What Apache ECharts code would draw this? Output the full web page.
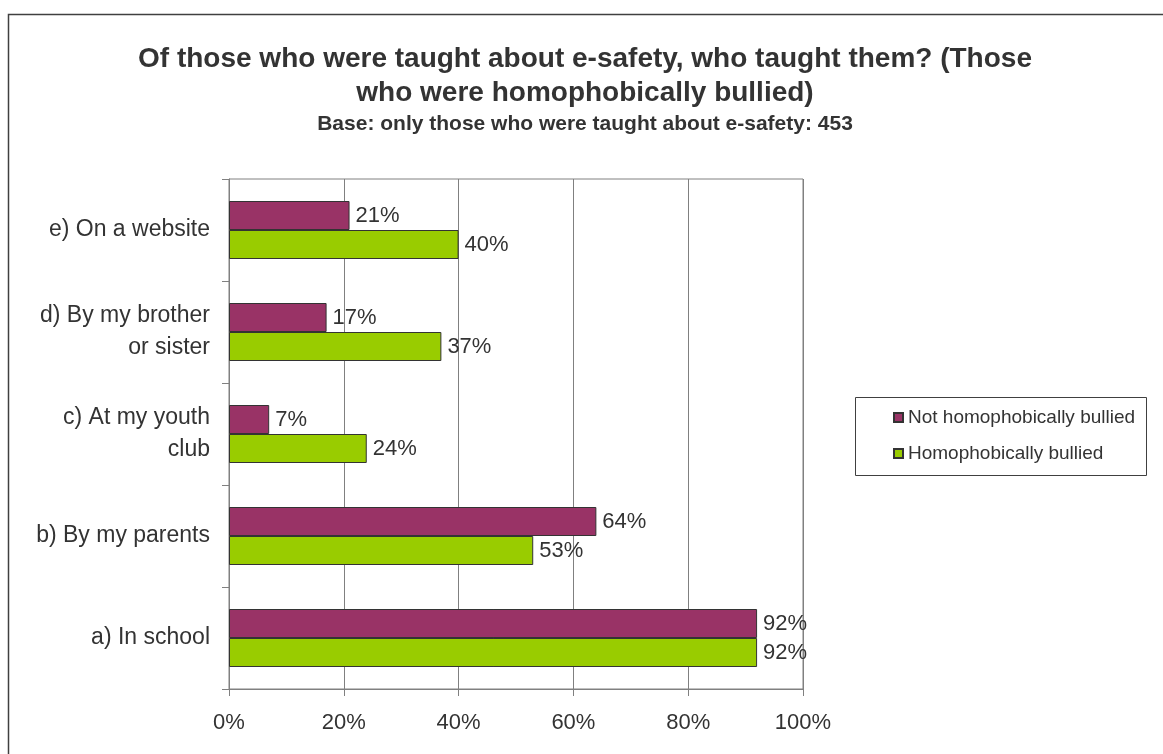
<!DOCTYPE html>
<html>
<head>
<meta charset="utf-8">
<script src="https://cdn.jsdelivr.net/npm/echarts@6/dist/echarts.min.js"></script>
<style>
  html, body { margin: 0; padding: 0; background: #fff; }
  #chart { width: 1163px; height: 754px; }
</style>
</head>
<body>
<div id="chart"></div>
<script>
// Categories listed top to bottom (the y axis is inverted)
const categories = [
  'e) On a website',
  'd) By my brother\nor sister',
  'c) At my youth\nclub',
  'b) By my parents',
  'a) In school'
];
const notBullied = [21, 17, 7, 64, 92];
const bullied = [40, 37, 24, 53, 92];
const seriesNames = ['Not homophobically bullied', 'Homophobically bullied'];
const xTicks = [0, 20, 40, 60, 80, 100];

const FONT = '"Liberation Sans", Arial, sans-serif';
const chart = echarts.init(document.getElementById('chart'), null, { renderer: 'canvas' });

const valueLabel = {
  show: true, position: 'right', distance: 6, formatter: '{c}%',
  fontFamily: FONT, fontSize: 22, color: '#333333'
};

chart.setOption({
  backgroundColor: '#ffffff',
  animation: false,
  textStyle: { fontFamily: FONT },
  title: [
    {
      text: 'Of those who were taught about e-safety, who taught them? (Those\nwho were homophobically bullied)',
      left: 580, top: 37, textAlign: 'center',
      textStyle: { fontFamily: FONT, fontSize: 28, fontWeight: 'bold', color: '#333333', lineHeight: 34 }
    },
    {
      text: 'Base: only those who were taught about e-safety: 453',
      left: 580, top: 109, textAlign: 'center',
      textStyle: { fontFamily: FONT, fontSize: 21, fontWeight: 'bold', color: '#333333' }
    }
  ],
  graphic: [
    {
      type: 'rect', silent: true, z: -1,
      shape: { x: 8.5, y: 14.5, width: 1300, height: 900 },
      style: { fill: 'none', stroke: '#404040', lineWidth: 1.5 }
    },
    {
      type: 'rect', silent: true,
      shape: { x: 855.5, y: 397.5, width: 291, height: 78 },
      style: { fill: '#ffffff', stroke: '#404040', lineWidth: 1 }
    }
  ],
  legend: {
    data: seriesNames,
    orient: 'vertical',
    left: 888, top: 403,
    itemGap: 17,
    itemWidth: 9, itemHeight: 9,
    icon: 'rect',
    textStyle: { fontFamily: FONT, fontSize: 19, color: '#333333' },
    z: 10
  },
  grid: {
    left: 229, right: 360, top: 179, bottom: 65,
    show: true, borderColor: '#808080', borderWidth: 1, backgroundColor: 'transparent'
  },
  xAxis: {
    type: 'value', min: 0, max: 100, interval: 20,
    axisLine: { show: true, lineStyle: { color: '#808080' } },
    axisTick: { show: true, length: 7, lineStyle: { color: '#808080' } },
    splitLine: { show: true, lineStyle: { color: '#808080' } },
    axisLabel: {
      margin: 23, fontFamily: FONT, fontSize: 22, color: '#333333',
      formatter: v => (xTicks.includes(v) ? v + '%' : '')
    }
  },
  yAxis: {
    type: 'category', data: categories, inverse: true,
    axisLine: { show: true, lineStyle: { color: '#808080' } },
    axisTick: { show: true, length: 7, lineStyle: { color: '#808080' } },
    axisLabel: {
      margin: 19, fontFamily: FONT, fontSize: 23, color: '#333333', lineHeight: 32, align: 'right'
    }
  },
  series: [
    {
      name: seriesNames[0], type: 'bar', data: notBullied,
      barWidth: 29, barGap: '0%',
      itemStyle: { color: '#993366', borderColor: '#333333', borderWidth: 1 },
      label: valueLabel
    },
    {
      name: seriesNames[1], type: 'bar', data: bullied,
      barWidth: 29, barGap: '0%',
      itemStyle: { color: '#99cc00', borderColor: '#333333', borderWidth: 1 },
      label: valueLabel
    }
  ]
});
</script>
</body>
</html>
